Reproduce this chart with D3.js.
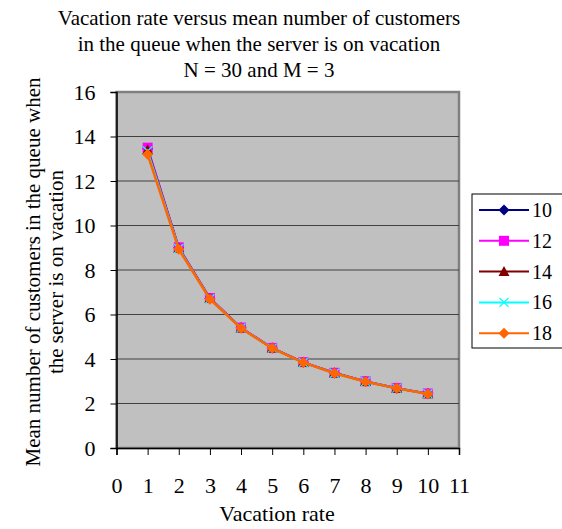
<!DOCTYPE html>
<html>
<head>
<meta charset="utf-8">
<script src="https://cdn.jsdelivr.net/npm/d3@7"></script>
<style>
  body { margin: 0; background: #fff; }
</style>
</head>
<body>
<svg id="chart" width="562" height="529"></svg>
<script>
// data
const rates = [1, 2, 3, 4, 5, 6, 7, 8, 9, 10];
const seriesNames = ['10', '12', '14', '16', '18'];
const s10 = [13.45, 9.0, 6.72, 5.40, 4.49, 3.85, 3.37, 2.99, 2.69, 2.44];
const s12 = [13.5, 9.02, 6.74, 5.41, 4.50, 3.86, 3.38, 3.00, 2.70, 2.45];
const s14 = [13.4, 8.98, 6.72, 5.39, 4.49, 3.85, 3.37, 2.99, 2.69, 2.44];
const s16 = [13.35, 8.97, 6.71, 5.39, 4.49, 3.84, 3.36, 2.99, 2.69, 2.44];
const s18 = [13.2, 8.93, 6.69, 5.38, 4.48, 3.84, 3.36, 2.98, 2.68, 2.43];
const xTicks = [0, 1, 2, 3, 4, 5, 6, 7, 8, 9, 10, 11];
const yTicks = [0, 2, 4, 6, 8, 10, 12, 14, 16];

const COLORS = { '10': '#000080', '12': '#ff00ff', '14': '#800000', '16': '#00ffff', '18': '#ff6600' };
const SHAPES = { '10': 'diamond', '12': 'square', '14': 'triangle', '16': 'x', '18': 'diamond' };
const FONT = "'Liberation Serif'";
const allSeries = [s10, s12, s14, s16, s18].map((v, i) => ({ name: seriesNames[i], values: v }));

const svg = d3.select('#chart');
const L = 116.5, R = 459, T = 92, B = 448;
const x = d3.scaleLinear().domain([0, 11]).range([L, R]);
const y = d3.scaleLinear().domain([0, 16]).range([B, T]);

// plot area
svg.append('rect').attr('x', L).attr('y', T).attr('width', R - L).attr('height', B - T)
  .attr('fill', '#c0c0c0').attr('stroke', '#808080').attr('stroke-width', 2.5);

// gridlines
svg.append('g').selectAll('line').data(yTicks.filter(d => d > 0 && d < 16)).enter().append('line')
  .attr('x1', L).attr('x2', R).attr('y1', d => y(d)).attr('y2', d => y(d))
  .attr('stroke', '#404040').attr('stroke-width', 1);

// axes
const yAxis = svg.append('g').attr('transform', `translate(${L},0)`)
  .call(d3.axisLeft(y).tickValues(yTicks).tickSize(6).tickPadding(15));
const xAxis = svg.append('g').attr('transform', `translate(0,${B})`)
  .call(d3.axisBottom(x).tickValues(xTicks).tickSize(7).tickPadding(22));
[xAxis, yAxis].forEach(a => {
  a.attr('font-family', FONT).attr('font-size', 22);
  a.select('.domain').attr('stroke', '#000').attr('stroke-width', 1.5);
  a.selectAll('.tick line').attr('stroke', '#000');
  a.selectAll('.tick text').style('font-family', FONT).style('font-size', '22px').attr('fill', '#000');
});

// markers
function marker(sel, name) {
  const c = COLORS[name], s = SHAPES[name];
  if (s === 'diamond') sel.append('path').attr('d', 'M0,-5.5L5.5,0L0,5.5L-5.5,0Z').attr('fill', c);
  else if (s === 'square') sel.append('rect').attr('x', -5).attr('y', -5).attr('width', 10).attr('height', 10).attr('fill', c);
  else if (s === 'triangle') sel.append('path').attr('d', 'M0,-5.5L5.5,4.5L-5.5,4.5Z').attr('fill', c);
  else if (s === 'x') sel.append('path').attr('d', 'M-4.5,-4.5L4.5,4.5M-4.5,4.5L4.5,-4.5').attr('stroke', c).attr('stroke-width', 1.3).attr('fill', 'none');
}

const line = d3.line().x((d, i) => x(rates[i])).y(d => y(d));
allSeries.forEach(s => {
  const g = svg.append('g');
  g.append('path').datum(s.values).attr('d', line).attr('fill', 'none')
    .attr('stroke', COLORS[s.name]).attr('stroke-width', s.name === '18' ? 2.5 : 2);
  s.values.forEach((v, i) => {
    marker(g.append('g').attr('transform', `translate(${x(rates[i])},${y(v)})`), s.name);
  });
});

// title
const title = ['Vacation rate versus mean number of customers', 'in the queue when the server is on vacation', 'N = 30 and M = 3'];
svg.append('g').selectAll('text').data(title).enter().append('text')
  .attr('x', 259).attr('y', (d, i) => 25 + i * 26).attr('text-anchor', 'middle')
  .style('font-family', FONT).style('font-size', '21px').text(d => d);

// axis titles
svg.append('text').attr('x', 277).attr('y', 521).attr('text-anchor', 'middle')
  .style('font-family', FONT).style('font-size', '22px').text('Vacation rate');
const yTitle = ['Mean number of customers in the queue when', 'the server is on vacation'];
svg.append('g').selectAll('text').data(yTitle).enter().append('text')
  .attr('transform', (d, i) => `translate(${40 + i * 23},${272}) rotate(-90)`)
  .attr('text-anchor', 'middle').style('font-family', FONT).style('font-size', '21px').text(d => d);

// legend
const lg = svg.append('g');
lg.append('rect').attr('x', 472).attr('y', 194).attr('width', 100).attr('height', 154)
  .attr('fill', '#fff').attr('stroke', '#000').attr('stroke-width', 1);
seriesNames.forEach((n, i) => {
  const yy = 210 + i * 30.8;
  lg.append('line').attr('x1', 479).attr('x2', 529).attr('y1', yy).attr('y2', yy)
    .attr('stroke', COLORS[n]).attr('stroke-width', 2);
  marker(lg.append('g').attr('transform', `translate(504,${yy})`), n);
  lg.append('text').attr('x', 532).attr('y', yy + 7)
    .style('font-family', FONT).style('font-size', '20px').text(n);
});
</script>
</body>
</html>
